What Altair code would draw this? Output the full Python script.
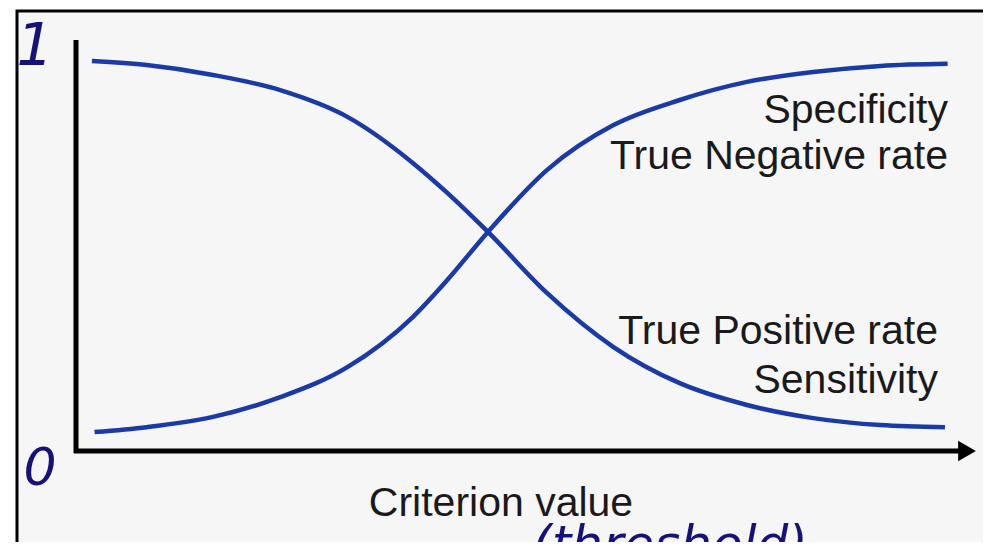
import altair as alt
import pandas as pd

# Criterion value (x, 0-100 scale) and rate (y, 0-1)
sens_x = [1.8, 8.0, 15.5, 23.1, 30.7, 38.1, 42.0, 46.6, 53.3, 60.8, 68.3, 75.9, 83.4, 91.0, 98.3]
sens_y = [0.949, 0.939, 0.915, 0.878, 0.813, 0.701, 0.628, 0.533, 0.384, 0.253, 0.165, 0.112, 0.080, 0.063, 0.058]

spec_x = [2.1, 8.0, 15.5, 23.1, 30.7, 38.1, 42.0, 46.6, 53.3, 60.8, 68.3, 75.9, 83.4, 91.0, 98.6]
spec_y = [0.046, 0.058, 0.083, 0.131, 0.204, 0.326, 0.416, 0.533, 0.684, 0.793, 0.854, 0.898, 0.922, 0.937, 0.942]

curves = pd.concat([
    pd.DataFrame({"x": sens_x, "y": sens_y, "series": "Sensitivity"}),
    pd.DataFrame({"x": spec_x, "y": spec_y, "series": "Specificity"}),
])

W, H = 884, 411
BLUE = "#1a3aa8"
INK = "#1a1a1a"
PEN = "#16127a"
one = pd.DataFrame({"a": [0]})

xs = alt.Scale(domain=[0, 100], nice=False, zero=False)
ys = alt.Scale(domain=[0, 1], nice=False, zero=False)

frame = alt.Chart(one).mark_rect(fill="#f6f6f6", stroke="black", strokeWidth=3, clip=False).encode(
    x=alt.value(-59), x2=alt.value(1000), y=alt.value(-29), y2=alt.value(600)
)

yaxis = alt.Chart(one).mark_rule(color="black", strokeWidth=5, clip=False).encode(
    x=alt.value(0), y=alt.value(0), y2=alt.value(413)
)
xaxis = alt.Chart(one).mark_rule(color="black", strokeWidth=5, clip=False).encode(
    x=alt.value(-2), x2=alt.value(886), y=alt.value(411)
)
arrow = alt.Chart(one).mark_point(shape="triangle-right", filled=True, color="black",
                                  opacity=1, size=420, clip=False).encode(
    x=alt.value(891), y=alt.value(411)
)

lines = alt.Chart(curves).mark_line(strokeWidth=4.5, interpolate="monotone", color=BLUE).encode(
    x=alt.X("x:Q", scale=xs, axis=None),
    y=alt.Y("y:Q", scale=ys, axis=None),
    detail="series:N",
)

def label(txt, x, y, align="right", size=41, color=INK, font="Liberation Sans", style="normal"):
    return alt.Chart(one).mark_text(text=txt, align=align, baseline="alphabetic",
                                    fontSize=size, font=font, color=color,
                                    fontStyle=style, clip=False).encode(
        x=alt.value(x), y=alt.value(y)
    )

texts = [
    label("Specificity", 872, 83),
    label("True Negative rate", 872, 129),
    label("True Positive rate", 862, 304),
    label("Sensitivity", 862, 353),
    label("Criterion value", 425, 476, align="center"),
    label("1", -41, 25, align="center", size=58, color=PEN, font="DejaVu Sans", style="italic"),
    label("0", -36, 445, align="center", size=52, color=PEN, font="DejaVu Sans", style="italic"),
    label("(threshold)", 594, 521, align="center", size=50, color=PEN, font="DejaVu Sans", style="italic"),
]

chart = alt.layer(frame, yaxis, xaxis, arrow, lines, *texts).properties(
    width=W, height=H,
    autosize=alt.AutoSizeParams(type="none"),
    padding={"left": 68, "top": 32, "right": 23, "bottom": 91},
    background="white",
).configure_view(stroke=None)

chart.save("out.html", embed_options={"renderer": "svg", "actions": False})
